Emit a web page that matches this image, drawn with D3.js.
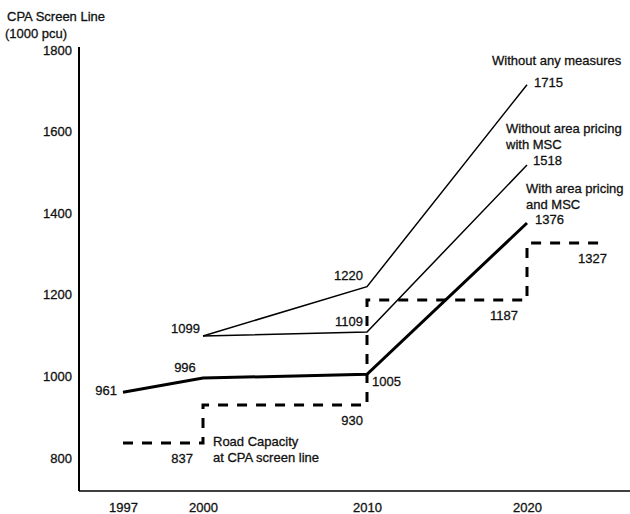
<!DOCTYPE html>
<html>
<head>
<meta charset="utf-8">
<script src="https://cdn.jsdelivr.net/npm/d3@7"></script>
<style>
  body { margin: 0; background: #fff; }
  svg text { font-family: "Liberation Sans", Arial, sans-serif; font-size: 13px; fill: #111; stroke: #111; stroke-width: 0.3px; }
</style>
</head>
<body>
<div id="chart"></div>
<script>
// Data
const years = [1997, 2000, 2010, 2020];
const yTicks = [800, 1000, 1200, 1400, 1600, 1800];

const withoutMeasures = [
    { year: 2000, value: 1099 },
    { year: 2010, value: 1220 },
    { year: 2020, value: 1715 }
];
const withoutPricing = [
    { year: 2000, value: 1099 },
    { year: 2010, value: 1109 },
    { year: 2020, value: 1518 }
];
const withPricing = [
    { year: 1997, value: 961 },
    { year: 2000, value: 996 },
    { year: 2010, value: 1005 },
    { year: 2020, value: 1376 }
];
// road capacity steps: [from year, to year, value]
const capacitySteps = [
    [1997, 2000, 837],
    [2000, 2010, 930],
    [2010, 2020, 1187],
    [2020, 2025, 1327]
];

const width = 630, height = 514;
const axisLeftX = 79, axisBottomY = 491;

const svg = d3.select('#chart').append('svg')
    .attr('width', width)
    .attr('height', height);

// x axis is not evenly spaced in the original, so use a piecewise scale
const x = d3.scaleLinear()
    .domain(years)
    .range([123, 203, 367, 527]);

const y = d3.scaleLinear()
    .domain([800, 1800])
    .range([458, 50]);

// axes
svg.append('line')
    .attr('x1', axisLeftX).attr('x2', axisLeftX)
    .attr('y1', 47).attr('y2', axisBottomY)
    .attr('stroke', '#000').attr('stroke-width', 2);

svg.append('line')
    .attr('x1', axisLeftX).attr('x2', width)
    .attr('y1', axisBottomY).attr('y2', axisBottomY)
    .attr('stroke', '#000').attr('stroke-width', 1.5);

const yAxis = svg.append('g')
    .attr('transform', `translate(${axisLeftX}, 0)`)
    .call(d3.axisLeft(y).tickValues(yTicks).tickSize(0).tickPadding(7).tickFormat(d3.format('d')));
yAxis.select('.domain').remove();
yAxis.selectAll('text').style('font-size', '13px').attr('fill', '#111');

const xAxis = svg.append('g')
    .attr('transform', `translate(0, ${axisBottomY})`)
    .call(d3.axisBottom(x).tickValues(years).tickSize(0).tickPadding(12).tickFormat(d3.format('d')));
xAxis.select('.domain').remove();
xAxis.selectAll('text').style('font-size', '13px').attr('fill', '#111');

// y axis title
svg.append('text').attr('x', 7).attr('y', 21).text('CPA Screen Line');
svg.append('text').attr('x', 5).attr('y', 38).text('(1000 pcu)');

const line = d3.line()
    .x(d => x(d.year))
    .y(d => y(d.value));

// road capacity step line
const capPoints = [];
capacitySteps.forEach(s => {
    capPoints.push({ year: s[0], value: s[2] });
    capPoints.push({ year: s[1], value: s[2] });
});
svg.append('path')
    .datum(capPoints)
    .attr('d', line)
    .attr('fill', 'none')
    .attr('stroke', '#000')
    .attr('stroke-width', 3)
    .attr('stroke-dasharray', '10,9');

svg.append('path')
    .datum(withoutMeasures)
    .attr('d', line)
    .attr('fill', 'none')
    .attr('stroke', '#000')
    .attr('stroke-width', 1.5);

svg.append('path')
    .datum(withoutPricing)
    .attr('d', line)
    .attr('fill', 'none')
    .attr('stroke', '#000')
    .attr('stroke-width', 1.5);

svg.append('path')
    .datum(withPricing)
    .attr('d', line)
    .attr('fill', 'none')
    .attr('stroke', '#000')
    .attr('stroke-width', 3);

// value labels: [year, value, dx, dy, anchor]
const valueLabels = [
    [1997, 961, -6, 3, 'end'],
    [2000, 996, -18, -6, 'middle'],
    [2000, 1099, -3, -3, 'end'],
    [2010, 1220, -4, -7, 'end'],
    [2010, 1109, -4, -6, 'end'],
    [2010, 1005, 5, 12, 'start'],
    [2010, 930, -4, 20, 'end'],
    [2000, 837, -10, 20, 'end'],
    [2020, 1187, -9, 20, 'end'],
    [2025, 1327, 0, 20, 'end'],
    [2020, 1376, 8, 1, 'start'],
    [2020, 1518, 6, 0, 'start'],
    [2020, 1715, 7, 2, 'start']
];
svg.selectAll('.vlabel')
    .data(valueLabels)
    .enter()
    .append('text')
    .attr('class', 'vlabel')
    .attr('x', d => x(d[0]) + d[2])
    .attr('y', d => y(d[1]) + d[3])
    .attr('text-anchor', d => d[4])
    .text(d => d[1]);

// series names: [year, value, dx, dy, text]
const seriesLabels = [
    [2020, 1715, -35, -20, 'Without any measures'],
    [2020, 1518, -21, -32, 'Without area pricing'],
    [2020, 1518, -21, -16, 'with MSC'],
    [2020, 1376, -1, -30, 'With area pricing'],
    [2020, 1376, -1, -14, 'and MSC'],
    [2000, 837, 10, 3, 'Road Capacity'],
    [2000, 837, 10, 19, 'at CPA screen line']
];
svg.selectAll('.slabel')
    .data(seriesLabels)
    .enter()
    .append('text')
    .attr('class', 'slabel')
    .attr('x', d => x(d[0]) + d[2])
    .attr('y', d => y(d[1]) + d[3])
    .text(d => d[4]);
</script>
</body>
</html>
